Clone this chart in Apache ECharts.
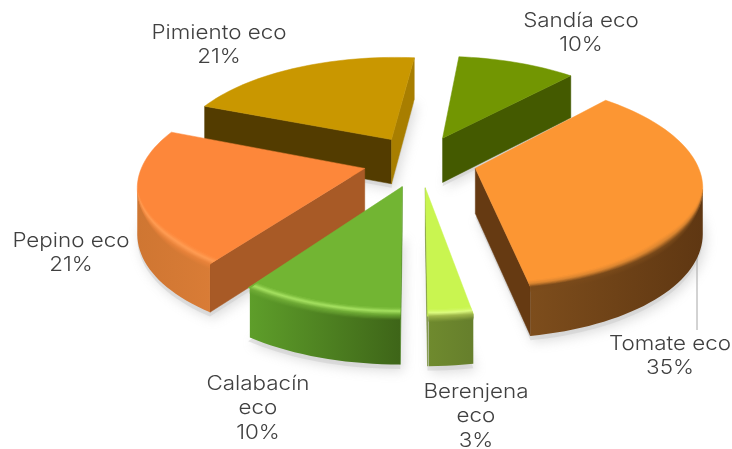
<!DOCTYPE html>
<html>
<head>
<meta charset="utf-8">
<style>
  html, body { margin: 0; padding: 0; background: #fff; }
  #chart { width: 732px; height: 449px; }
</style>
<script src="https://cdn.jsdelivr.net/npm/echarts@6/dist/echarts.min.js"></script>
</head>
<body>
<div id="chart"></div>
<script>
const categories = ['Tomate eco', 'Berenjena eco', 'Calabacín eco', 'Pepino eco', 'Pimiento eco', 'Sandía eco']
const values = [35.42, 2.7, 9.86, 21.3, 20.55, 10.17]

// colores de cada porción: cara superior, paredes radiales, borde exterior
const topColors = ['#FC9633', '#C9F550', '#72B533', '#FD873A', '#C99700', '#729602']
const startWall = ['#663A12', '#708A30', '#4F8A22', '#A85A26', '#533C00', '#445A00']
const endWall = ['#663A12', '#708A30', '#4F8A22', '#A85A26', '#A87E00', '#445A00']
const rimColors = [
  ['#7D4D1C', '#5F3712'], ['#6F8A2E', '#667F2C'], ['#5E9E2A', '#3E6518'],
  ['#CF7632', '#D97C36'], ['#A87E00', '#A87E00'], ['#445A00', '#445A00']
]
// bisel: color en la arista y color de la banda clara
const bevelEdge = ['#7A4A1A', '#9DB548', '#6FAB35', '#E8823A', null, null]
const bevelHigh = ['#D98430', '#DDFB80', '#A6E261', '#FF9C52', null, null]

// maquetación (no son datos)
const drawOrder = [4, 5, 3, 0, 2, 1]
const labelPos = [[670, 356], [476, 416], [258, 408], [71, 253], [219, 45], [581, 33]]
const labelWrap = [false, true, true, false, false, false]
const leader = [697, 243, 697, 330]

const startAngle = 42.5, cx = 420, cy = 161, R = 221, explode = 57, flat = 0.454, persp = 1 / 1481, depth = 45

const total = values.reduce((a, b) => a + b, 0)
const rad = d => d * Math.PI / 180

function project (X, Y, z) {
  const s = 1 / (1 - Y * persp)
  return [cx + X * s, cy + flat * Y * s + z * Math.sqrt(s)]
}

function renderSlice (params, api) {
  const i = params.dataIndex
  let before = 0
  for (let k = 0; k < i; k++) before += values[k]
  const a0 = startAngle + before / total * 360
  const a1 = a0 + api.value(0) / total * 360
  const mid = rad((a0 + a1) / 2)
  const ox = explode * Math.sin(mid)
  const oy = -explode * Math.cos(mid)
  const base = (drawOrder.indexOf(i) + 1) * 100

  const pt = (deg, r, z) => project(ox + r * Math.sin(rad(deg)), oy - r * Math.cos(rad(deg)), z)
  const arc = (from, to, r, z) => {
    const out = []
    const n = Math.max(2, Math.ceil(Math.abs(to - from) / 2))
    for (let k = 0; k <= n; k++) out.push(pt(from + (to - from) * k / n, r, z))
    return out
  }
  const apex = z => project(ox, oy, z)
  const poly = (points, fill, z2, extra) => ({
    type: 'polygon',
    z2: z2,
    shape: { points: points },
    style: Object.assign({ fill: fill, stroke: typeof fill === 'string' ? fill : null, lineWidth: 0.5 }, extra || {}),
    silent: true
  })
  const horizontal = (left, right) => new echarts.graphic.LinearGradient(0, 0, 1, 0, [
    { offset: 0, color: left },
    { offset: 1, color: right }
  ])

  const children = []

  // sombra difusa bajo la porción
  children.push(poly([apex(depth + 4)].concat(arc(a0, a1, R, depth + 4)), 'rgba(205,205,205,0.55)', 1, {
    shadowBlur: 12, shadowColor: 'rgba(150,150,150,0.6)', shadowOffsetX: 3, shadowOffsetY: 2, stroke: null
  }))

  // paredes radiales visibles
  const camDot = (nx, ny, px, py) => nx * (0 - px) + ny * (1 / persp - py)
  if (camDot(-Math.cos(rad(a0)), -Math.sin(rad(a0)), ox, oy) > 0) {
    children.push(poly([apex(0), pt(a0, R, 0), pt(a0, R, depth), apex(depth)], startWall[i], base + 1))
  }
  if (camDot(Math.cos(rad(a1)), Math.sin(rad(a1)), ox, oy) > 0) {
    children.push(poly([apex(0), pt(a1, R, 0), pt(a1, R, depth), apex(depth)], endWall[i], base + 1))
  }

  // tramo visible del borde exterior
  let v0 = null, v1 = null
  for (let a = a0; a <= a1 + 0.001; a += 0.5) {
    const dx = Math.sin(rad(a)), dy = -Math.cos(rad(a))
    if (camDot(dx, dy, ox + R * dx, oy + R * dy) > 0) {
      if (v0 === null) v0 = a
      v1 = a
    }
  }
  if (v0 !== null && v1 > v0) {
    children.push(poly(arc(v0, v1, R, 0).concat(arc(v1, v0, R, depth)), horizontal(rimColors[i][0], rimColors[i][1]), base + 2, { stroke: null }))
  }

  // cara superior
  children.push(poly([apex(0)].concat(arc(a0, a1, R, 0)), topColors[i], base + 3))

  // bisel en el borde frontal: tiras opacas, del borde hacia la cara superior
  // se adelgaza hacia la silueta, donde el borde deja de verse
  if (bevelHigh[i] && v0 !== null && v1 > v0) {
    const steps = 14
    const taper = a => {
      let w = 1
      if (v0 > a0 + 0.6) w = Math.min(w, (a - v0) / 30)
      if (v1 < a1 - 0.6) w = Math.min(w, (v1 - a) / 30)
      return Math.max(0, w)
    }
    const bandArc = (from, to, inset, z) => {
      const out = []
      const n = Math.max(2, Math.ceil(Math.abs(to - from) / 2))
      for (let k = 0; k <= n; k++) {
        const a = from + (to - from) * k / n
        const w = taper(a)
        out.push(pt(a, R - inset * w, z * w))
      }
      return out
    }
    const bevelAt = t => (t < 1 / 3 ? { inset: 0, z: 5 * (1 - t * 3) } : { inset: 15 * (t - 1 / 3), z: 0 })
    for (let k = 0; k < steps; k++) {
      const t = (k + 0.5) / steps
      const p = bevelAt(k / steps), q = bevelAt(Math.min(1, (k + 2) / steps))
      const left = echarts.color.lerp(t, [rimColors[i][0], bevelEdge[i], bevelHigh[i], topColors[i]])
      const right = echarts.color.lerp(t, [rimColors[i][1], bevelEdge[i], bevelHigh[i], topColors[i]])
      children.push(poly(bandArc(v0, v1, p.inset, p.z).concat(bandArc(v1, v0, q.inset, q.z)), horizontal(left, right), base + 4 + k, { stroke: null }))
    }
  }

  // etiqueta
  const name = labelWrap[i] ? categories[i].replace(' ', '\n') : categories[i]
  children.push({
    type: 'text',
    z2: 5000,
    x: labelPos[i][0],
    y: labelPos[i][1],
    scaleX: 1.12,
    style: {
      text: name + '\n' + Math.round(api.value(0)) + '%',
      fill: '#404040',
      fontFamily: 'Inter',
      fontWeight: 300,
      fontSize: 20,
      lineHeight: 24.5,
      textAlign: 'center',
      textVerticalAlign: 'middle'
    }
  })

  if (i === 0) {
    children.push({
      type: 'line',
      z2: 50,
      shape: { x1: leader[0], y1: leader[1], x2: leader[2], y2: leader[3] },
      style: { stroke: '#A6A6A6', lineWidth: 1 }
    })
  }

  return { type: 'group', children: children }
}

const chart = echarts.init(document.getElementById('chart'), null, { renderer: 'canvas' })
chart.setOption({
  animation: false,
  backgroundColor: '#fff',
  series: [{
    type: 'custom',
    coordinateSystem: 'none',
    silent: true,
    data: values.map(v => [v]),
    renderItem: renderSlice
  }]
})
</script>
</body>
</html>
